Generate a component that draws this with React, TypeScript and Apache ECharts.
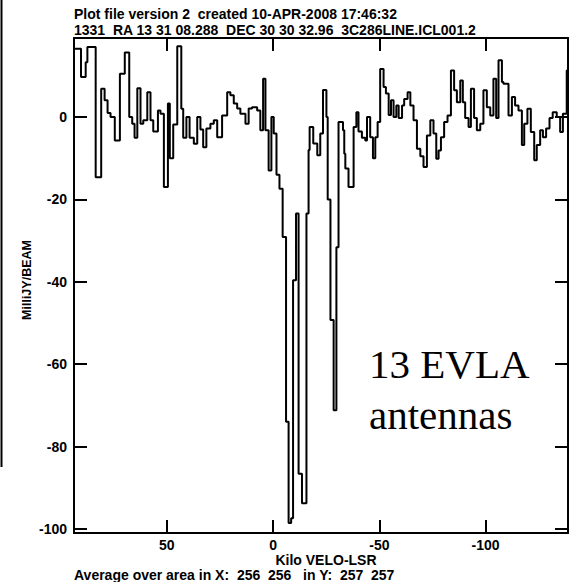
import { useEffect, useRef } from "react";
import * as echarts from "echarts";

// Left edge (km/s) of each step of the averaged spectrum, high velocity first.
const velocityStart = [
  93.7, 90.4, 88.2, 87.4, 83.5, 80.9, 79.3, 77.9, 76.5, 74.5,
  72.1, 69.8, 67.7, 66.3, 65.2, 63.9, 62.4, 61.1, 59.2, 57.7,
  56.4, 54.2, 53.0, 51.4, 49.5, 48.6, 47.0, 45.1, 43.2, 42.3,
  40.8, 39.3, 37.3, 35.7, 34.2, 32.9, 31.4, 29.5, 27.9, 26.3,
  24.0, 21.6, 20.1, 18.5, 16.9, 15.4, 13.0, 11.5, 9.9, 7.5,
  6.0, 4.7, 3.6, 2.1, 0.8, -0.3, -1.6, -3.0, -4.5, -6.1,
  -7.3, -8.5, -9.4, -10.8, -12.0, -13.6, -15.7, -16.7, -17.2, -18.9,
  -20.8, -22.2, -23.5, -25.1, -25.7, -27.0, -28.5, -29.8, -30.8, -32.9,
  -33.5, -34.0, -35.5, -37.9, -39.2, -40.2, -41.8, -43.4, -44.2, -45.7,
  -47.0, -48.1, -49.2, -50.4, -52.0, -53.1, -54.4, -55.5, -56.7, -58.0,
  -59.1, -60.7, -61.7, -63.3, -64.6, -66.1, -67.7, -69.3, -70.8, -72.4,
  -74.0, -75.5, -76.8, -77.9, -79.0, -80.5, -82.1, -83.7, -85.2, -86.5,
  -88.1, -89.3, -90.4, -92.0, -93.1, -94.6, -95.9, -97.5, -99.0, -100.6,
  -102.2, -103.7, -105.0, -106.1, -107.7, -108.4, -110.8, -112.4, -113.9, -115.5,
  -117.1, -118.2, -119.7, -121.3, -122.9, -124.1, -125.7, -127.0, -128.5, -130.1,
  -131.6, -133.5, -135.1, -136.4, -138.2,
];
const velocityEnd = -138.8;

// Flux density (mJy/beam) held over each step.
const flux = [
  16.6, 9.7, 13.3, 17, -14.6, 6.9, 4.1, 1, 0, -5.7,
  10.5, 15.7, 0, -1.6, -5, 7, -1.6, -0.8, 6, -0.8,
  -3.5, 1.6, 0.8, -17, 3.3, -10, -1.8, 17.2, 2, -5,
  0, -5, -6.5, 0, -3, -7.3, -2.8, -1.6, -0.8, -4.9,
  0.4, 6, 5.3, 3.3, 2.1, 0.8, -1.6, 2.1, 2.4, 1.6,
  -3.2, 9.3, -3.2, -13, 0, -4, -14, -17.4, -29.1, -74,
  -98.6, -97.4, -39.6, -23.4, -86.6, -93.8, -23.4, -8, -2.4, -6.4,
  -9.3, -4, 6.6, 0, -20, -49.3, -71.2, -31.6, -1.2, -3.2,
  -8.9, -12.5, -17, -2.4, 1.2, -3.5, -5, -5.7, 0, -4.9,
  -10, -4.9, -1.2, 11.7, 7.3, 5.7, 0.5, 4.1, 0, 2.8,
  -0.2, 2.8, 4.4, 6, 2.8, -0.8, -7.7, -9.5, -12.1, -4.5,
  -0.8, -4, -10.1, -8.1, -4.9, -1.2, 0.4, 11.3, 6.5, 3.6,
  8.9, 3.6, -0.2, -2.4, 6.9, -0.2, -3.2, -1.6, 6.5, 2.4,
  0.4, 9.3, -0.2, 13.8, 8.5, 8.1, 0.4, 4.9, 2.8, 1.6,
  -6.8, -1.6, 2, -3.6, -10.5, -6.8, -3.2, -4.9, -2.8, -0.2,
  1.2, 0, -3.6, 0.8, 11.3,
];

const xTicks = [50, 0, -50, -100];
const yTicks = [0, -20, -40, -60, -80, -100];
const xRange = [-138.8, 93.7];
const yRange = [-101, 19.2];

const titleLines = [
  "Plot file version 2  created 10-APR-2008 17:46:32",
  "1331  RA 13 31 08.288  DEC 30 30 32.96  3C286LINE.ICL001.2",
];
const xName = "Kilo VELO-LSR";
const yName = "MilliJY/BEAM";
const footer = "Average over area in X:  256  256   in Y:  257  257";
const noteLines = ["13 EVLA", "antennas"];

const SANS = '"Liberation Sans", Arial, sans-serif';
const SERIF = '"Liberation Serif", "Times New Roman", serif';

function frameAxis(extra: any) {
  return {
    splitLine: { show: false },
    axisLine: { show: true, onZero: false, lineStyle: { color: "#000", width: 2 } },
    ...extra,
  };
}

export default function App() {
  const ref = useRef<HTMLDivElement>(null);

  useEffect(() => {
    if (!ref.current) return;
    const chart = echarts.init(ref.current, undefined, { renderer: "svg" });

    const data: number[][] = velocityStart.map((v, i) => [v, flux[i]]);
    data.push([velocityEnd, flux[flux.length - 1]]);

    const tickStyle = { inside: true, length: 13, lineStyle: { color: "#000", width: 2 } };
    const labelFont = { color: "#000", fontFamily: SANS, fontWeight: "bold", fontSize: 14 };

    chart.setOption({
      animation: false,
      backgroundColor: "#fff",
      grid: { left: 74, right: 2, top: 38, bottom: 49 },
      xAxis: [
        frameAxis({
          type: "value",
          position: "bottom",
          inverse: true,
          min: xRange[0],
          max: xRange[1],
          axisTick: { ...tickStyle, customValues: xTicks },
          axisLabel: { ...labelFont, margin: 5, customValues: xTicks },
        }),
        frameAxis({
          type: "value",
          position: "top",
          inverse: true,
          min: xRange[0],
          max: xRange[1],
          axisTick: { ...tickStyle, customValues: xTicks },
          axisLabel: { show: false, customValues: xTicks },
        }),
      ],
      yAxis: [
        frameAxis({
          type: "value",
          position: "left",
          min: yRange[0],
          max: yRange[1],
          axisTick: { ...tickStyle, customValues: yTicks },
          axisLabel: { ...labelFont, margin: 7, customValues: yTicks },
        }),
        frameAxis({
          type: "value",
          position: "right",
          min: yRange[0],
          max: yRange[1],
          axisTick: { ...tickStyle, customValues: yTicks },
          axisLabel: { show: false, customValues: yTicks },
        }),
      ],
      series: [
        {
          type: "line",
          xAxisIndex: 0,
          yAxisIndex: 0,
          step: "end",
          showSymbol: false,
          clip: true,
          lineStyle: { color: "#000", width: 2 },
          data,
        },
      ],
      graphic: [
        {
          type: "line",
          shape: { x1: 1.5, y1: 0, x2: 1.5, y2: 467 },
          style: { stroke: "#000", lineWidth: 2 },
        },
        ...titleLines.map((t, i) => ({
          type: "text",
          x: 74,
          y: 14 + i * 15.6,
          style: {
            text: t,
            fill: "#000",
            font: `bold 14px ${SANS}`,
            textAlign: "left",
            textVerticalAlign: "middle",
          },
        })),
        {
          type: "text",
          x: 326,
          y: 560,
          style: {
            text: xName,
            fill: "#000",
            font: `bold 14px ${SANS}`,
            textAlign: "center",
            textVerticalAlign: "middle",
          },
        },
        {
          type: "text",
          x: 74,
          y: 575,
          style: {
            text: footer,
            fill: "#000",
            font: `bold 14px ${SANS}`,
            textAlign: "left",
            textVerticalAlign: "middle",
          },
        },
        {
          type: "text",
          x: 27,
          y: 280,
          rotation: Math.PI / 2,
          style: {
            text: yName,
            fill: "#000",
            font: `bold 12.5px ${SANS}`,
            textAlign: "center",
            textVerticalAlign: "middle",
          },
        },
        ...noteLines.map((t, i) => ({
          type: "text",
          x: 369,
          y: 364 + i * 51,
          style: {
            text: t,
            fill: "#000",
            font: `41px ${SERIF}`,
            textAlign: "left",
            textVerticalAlign: "middle",
          },
        })),
      ],
    });

    return () => chart.dispose();
  }, []);

  return (
    <div
      ref={ref}
      style={{ position: "absolute", left: 0, top: 0, width: 570, height: 582 }}
    />
  );
}
